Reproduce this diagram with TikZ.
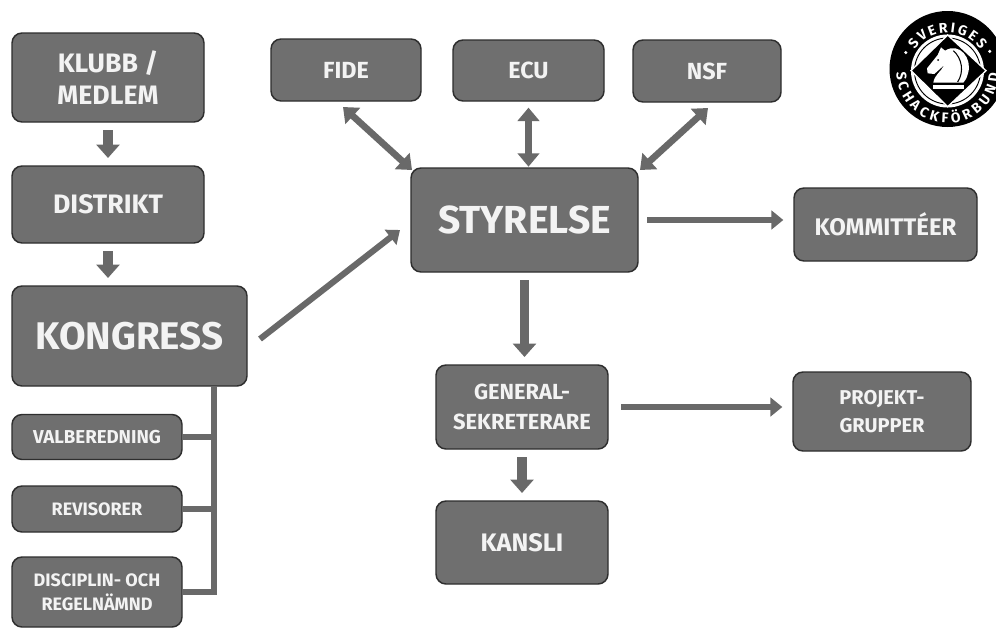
\documentclass[tikz,border=0pt]{standalone}
\usepackage{fontspec}
\setmainfont{Fira Sans}
\usetikzlibrary{arrows.meta,calc,decorations.text}
\definecolor{boxgrey}{HTML}{6F6F6F}
\definecolor{linegrey}{HTML}{696969}
\definecolor{edgegrey}{HTML}{2E2E2E}
\definecolor{txt}{HTML}{F3F3F3}
\tikzset{
  sz/.style 2 args={minimum width=#1*0.75pt,minimum height=#2*0.75pt},
  box/.style={draw=edgegrey,fill=boxgrey,line width=1.1pt,rounded corners=7.5pt,inner sep=0pt,outer sep=0pt,
    text=txt,align=center},
  fs/.style 2 args={font=\fontsize{#1}{#2}\selectfont\bfseries},
  thick arrow/.style={draw=linegrey,line width=7pt,-{Triangle[length=10pt,width=17pt]},shorten <=6pt,shorten >=6pt},
  mid arrow/.style={draw=linegrey,line width=4.6pt,-{Triangle[length=9pt,width=14pt]}},
  two arrow/.style={draw=linegrey,line width=5pt,{Triangle[length=10pt,width=16pt]}-{Triangle[length=10pt,width=16pt]}},
  branch/.style={draw=linegrey,line width=3.8pt},
  ringtext/.style={decoration={text along path,text align=fit to path,
    text={|\fontsize{10.5}{10.5}\selectfont\bfseries\color{white}|#1}},decorate},
}
\begin{document}
\begin{tikzpicture}[x=0.75pt,y=-0.75pt]
\useasboundingbox (0,0) rectangle (996,628);
\fill[white] (0,0) rectangle (996,628);
\node[box,sz={192}{89},fs={20}{24.5}] (klubb) at (108,77.5) {KLUBB /\\MEDLEM};
\node[box,sz={192}{77},fs={20}{24}] (distrikt) at (108,204.5) {DISTRIKT};
\node[box,sz={235}{100},fs={28.9}{34}] (kongress) at (129.5,336) {KONGRESS};
\node[box,sz={170}{45},fs={14}{17}] (val) at (97,437) {VALBEREDNING};
\node[box,sz={170}{46},fs={13.5}{17}] (rev) at (97,509) {REVISORER};
\node[box,sz={170}{70},fs={13.5}{18}] (disc) at (97,592) {DISCIPLIN- OCH\\REGELNÄMND};
\node[box,sz={150}{62},fs={17.5}{21}] (fide) at (346,70) {FIDE};
\node[box,sz={151}{61},fs={17.5}{21}] (ecu) at (528.5,70.5) {ECU};
\node[box,sz={148}{62},fs={17.5}{21}] (nsf) at (707,71) {NSF};
\node[box,sz={227}{104},fs={29.3}{35}] (sty) at (524.5,220) {STYRELSE};
\node[box,sz={183}{73},fs={18}{22}] (kom) at (885.5,224.5) {KOMMITTÉER};
\node[box,sz={172}{84},fs={16.4}{22}] (gen) at (522,407) {GENERAL-\\SEKRETERARE};
\node[box,sz={178}{79},fs={15}{21}] (proj) at (882,411.5) {PROJEKT-\\GRUPPER};
\node[box,sz={172}{83},fs={19}{23}] (kansli) at (522,542.5) {KANSLI};
% arrows
\draw[thick arrow] (klubb.south) -- (distrikt.north);
\draw[thick arrow] (distrikt.south) -- (distrikt.south |- kongress.north);
\draw[mid arrow,line width=5pt,shorten <=7pt,shorten >=8pt] (sty.east) -- (sty.east -| kom.west);
\draw[mid arrow,line width=5pt,shorten <=10pt,shorten >=8pt] (gen.east) -- (gen.east -| proj.west);
\draw[thick arrow] (sty.south) -- (sty.south |- gen.north);
\draw[thick arrow] (gen.south) -- (gen.south |- kansli.north);
\draw[two arrow] ($(fide.south)+(-3,6)$) -- ($(sty.north west)+(1,2)$);
\draw[two arrow,shorten <=5pt,shorten >=1pt] (ecu.south) -- (ecu.south |- sty.north);
\draw[two arrow] ($(nsf.south)+(1,6)$) -- ($(sty.north east)+(2,2)$);
\coordinate (kfrom) at ($(kongress.east)+(13,3)$);
\coordinate (kto) at ($(sty.west)+(-11,10)$);
\draw[mid arrow,line width=4.6pt] (kfrom) -- (kto);
% branch
\coordinate (trunk) at ($(kongress.south)+(84.5,0)$);
\draw[branch] (trunk) |- (disc.east);
\draw[branch] (val.east) -- (val.east -| trunk);
\draw[branch] (rev.east) -- (rev.east -| trunk);
% logo
\begin{scope}[shift={(947.5,69)},x=0.75pt,y=0.75pt]
  \fill[black] (0,0) circle (58);
  \fill[white] (0,-2) circle (36.5);
  \draw[black,line width=0.7pt] (0,-2) circle (33);
\end{scope}
\begin{scope}[shift={(947.5,72)},x=0.75pt,y=0.75pt]
  \fill[white] (155:46) circle (1.7);
  \fill[white] (26:47) circle (1.7);
  \path[ringtext={SVERIGES}] (146:39.5) arc[start angle=146,end angle=34,radius=39.5];
  \path[ringtext={SCHACKFÖRBUND}] (180:51) arc[start angle=180,end angle=358,radius=51];
\end{scope}
\begin{scope}[shift={(876,10)},x=0.25pt,y=-0.25pt]
  \filldraw[black,draw=white,line width=1pt] (105,182) -- (215,75) -- (330,182) -- (215,290) -- cycle;
  \fill[white] (172,218) .. controls (175,195) and (195,185) .. (205,165) -- (175,192) -- (155,190) -- (153,175)
     -- (185,135) -- (195,112) -- (207,122) .. controls (250,95) and (290,145) .. (276,190)
     .. controls (272,205) and (268,212) .. (262,218) -- cycle;
  \fill[white] (170,224) rectangle (265,236);
  \draw[black,line width=0.8pt] (232,122) .. controls (258,145) and (265,185) .. (245,216);
  \fill[black] (186,150) circle (3);
\end{scope}
\end{tikzpicture}
\end{document}
